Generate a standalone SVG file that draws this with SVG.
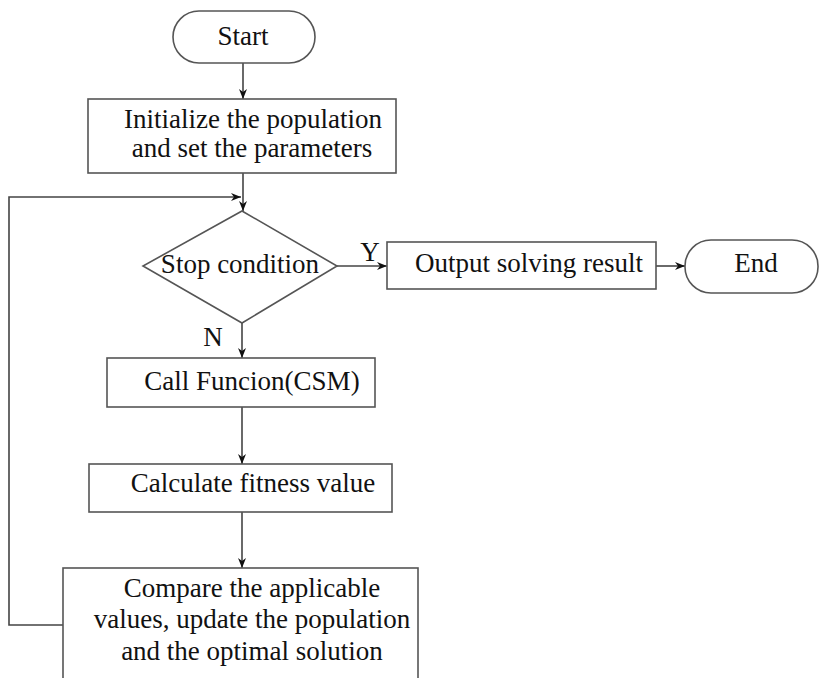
<svg xmlns="http://www.w3.org/2000/svg" width="823" height="678" viewBox="0 0 823 678">
<style>
.s{fill:#fff;stroke:#555;stroke-width:1.6}
.c{fill:none;stroke:#444;stroke-width:1.6}
.t{font-family:'Liberation Serif','Times New Roman','DejaVu Serif',serif;font-size:27px;fill:#111;text-anchor:middle}
</style>
<defs>
<marker id="a" viewBox="0 0 10 10" refX="10" refY="5" markerWidth="10" markerHeight="10" markerUnits="userSpaceOnUse" orient="auto">
<path d="M0,1 L10,5 L0,9 L3,5 Z" fill="#111"/>
</marker>
</defs>
<rect width="823" height="678" fill="#fff"/>
<g id="connectors">
<line class="c" x1="243" y1="63" x2="243" y2="99" marker-end="url(#a)"/>
<line class="c" x1="243" y1="173" x2="243" y2="211" marker-end="url(#a)"/>
<polyline class="c" points="63,625 9,625 9,197 241,197" marker-end="url(#a)"/>
<line class="c" x1="337" y1="266" x2="387" y2="266" marker-end="url(#a)"/>
<line class="c" x1="656" y1="266" x2="685" y2="266" marker-end="url(#a)"/>
<line class="c" x1="242" y1="323" x2="242" y2="358" marker-end="url(#a)"/>
<line class="c" x1="242" y1="407" x2="242" y2="464" marker-end="url(#a)"/>
<line class="c" x1="242" y1="512" x2="242" y2="568" marker-end="url(#a)"/>
<text class="t" x="370" y="261">Y</text>
<text class="t" x="213" y="346">N</text>
</g>
<g id="start">
<rect class="s" x="173" y="11" width="142" height="52" rx="26"/>
<text class="t" x="243" y="45">Start</text>
</g>
<g id="init">
<rect class="s" x="88" y="99" width="308" height="74"/>
<text class="t" x="253" y="128">Initialize the population</text>
<text class="t" x="252" y="157">and set the parameters</text>
</g>
<g id="stop">
<polygon class="s" points="242,211 337,266 242,323 143,266"/>
<text class="t" x="240" y="273">Stop condition</text>
</g>
<g id="output">
<rect class="s" x="387" y="242" width="269" height="47"/>
<text class="t" x="529" y="272">Output solving result</text>
</g>
<g id="end">
<rect class="s" x="685" y="240" width="133" height="53" rx="26"/>
<text class="t" x="756" y="272">End</text>
</g>
<g id="call">
<rect class="s" x="107" y="358" width="268" height="49"/>
<text class="t" x="252" y="390">Call Funcion(CSM)</text>
</g>
<g id="calc">
<rect class="s" x="89" y="464" width="303" height="48"/>
<text class="t" x="253" y="492">Calculate fitness value</text>
</g>
<g id="compare">
<rect class="s" x="63" y="568" width="355" height="130"/>
<text class="t" x="252" y="597">Compare the applicable</text>
<text class="t" x="252" y="628">values, update the population</text>
<text class="t" x="252" y="660">and the optimal solution</text>
</g>
</svg>
